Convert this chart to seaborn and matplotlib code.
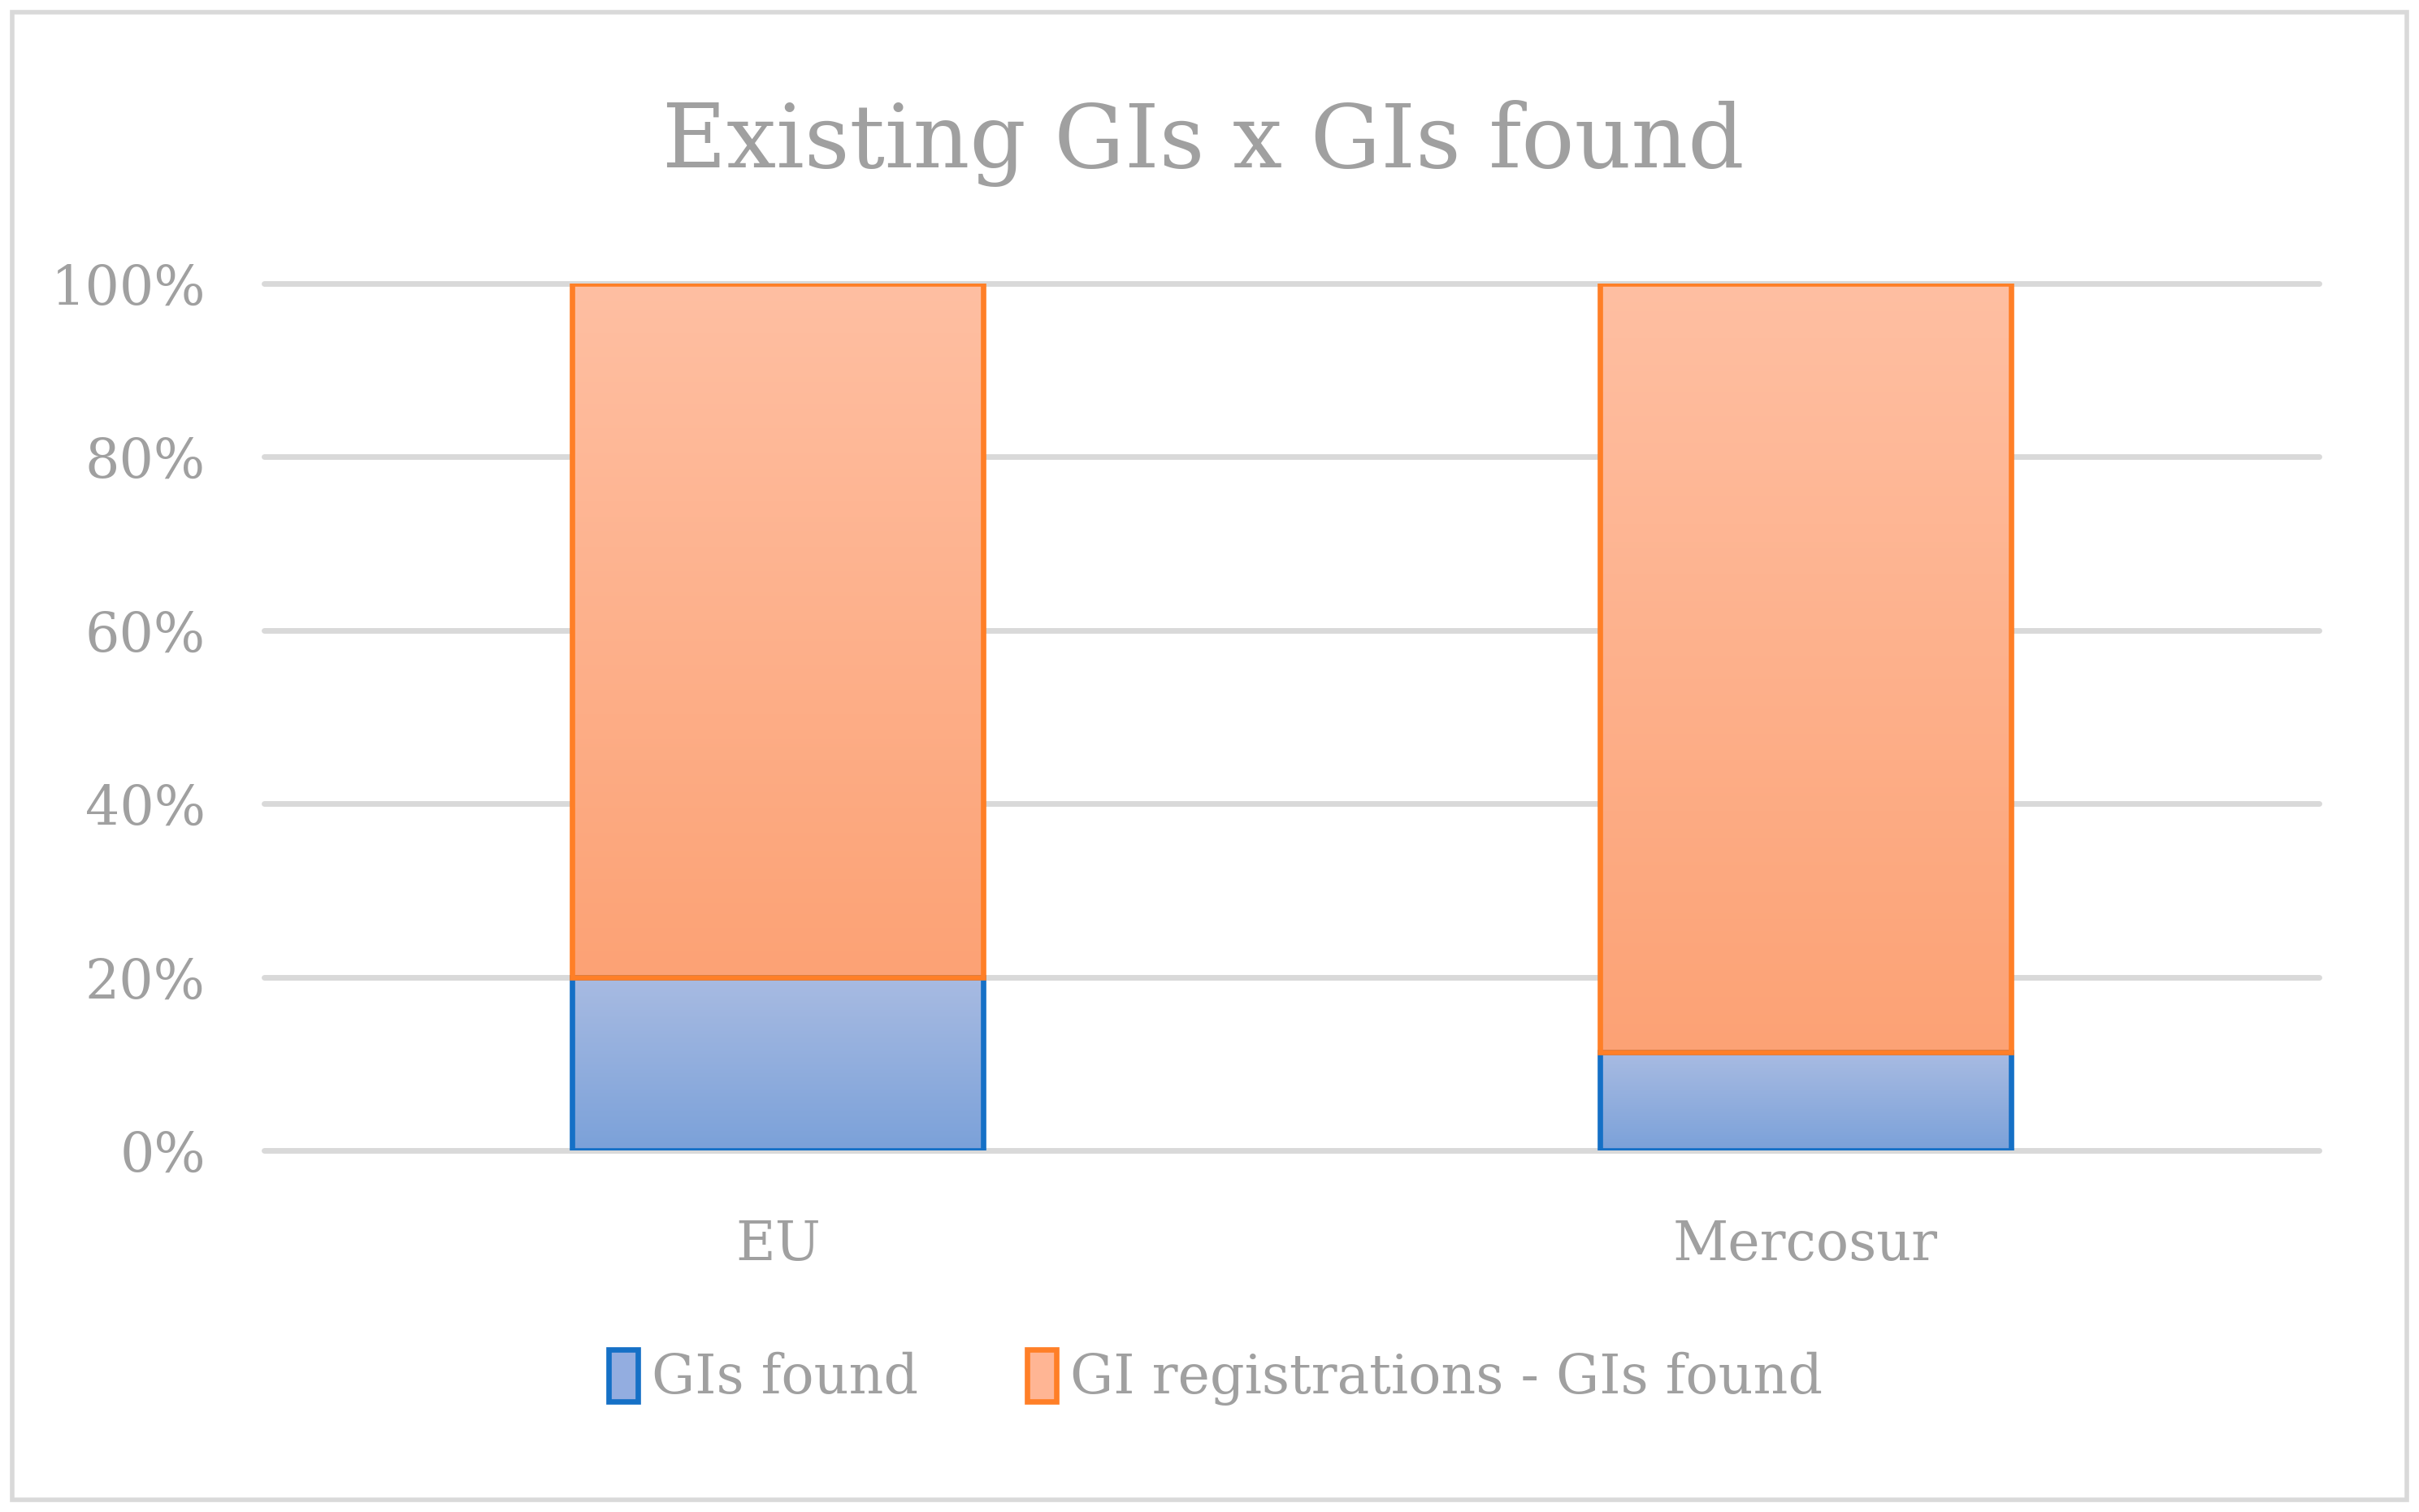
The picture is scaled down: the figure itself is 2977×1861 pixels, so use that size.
import numpy as np
import pandas as pd
import matplotlib
matplotlib.use("Agg")
import matplotlib.pyplot as plt
from matplotlib.patches import Rectangle, Patch
from matplotlib.colors import LinearSegmentedColormap
from matplotlib.ticker import FuncFormatter
import seaborn as sns

# data (share of GI registrations, in %)
regions = ["EU", "Mercosur"]
gis_found = [20.0, 11.3]
gis_rest = [80.0, 88.7]
series = ["GIs found", "GI registrations - GIs found"]

df = pd.DataFrame({
    "region": regions * 2,
    "series": [series[0]] * 2 + [series[1]] * 2,
    "share": gis_found + gis_rest,
})

txt = "#a0a0a0"
grid = "#d9d9d9"
edge = {series[0]: "#1570c6", series[1]: "#ff7f27"}
grad = {series[0]: ("#7ba1d9", "#a8bbe2"),   # bottom, top
        series[1]: ("#fca275", "#ffbfa2")}

sns.set_theme(style="white")
plt.rcParams["font.family"] = ["DejaVu Serif"]

fig = plt.figure(figsize=(29.77 / 2, 18.61 / 2), dpi=200)
ax = fig.add_axes([0.1092, 0.2391, 0.8495, 0.5734])

# seaborn stacks the first hue level on top
sns.histplot(data=df, x="region", hue="series", weights="share",
             hue_order=[series[1], series[0]], multiple="stack",
             shrink=0.4, discrete=True, ax=ax, legend=False,
             palette=[grad[series[1]][0], grad[series[0]][0]],
             edgecolor="none", alpha=1)

# gradient fills clipped to each bar
for p in list(ax.patches):
    x0, y0 = p.get_x(), p.get_y()
    w, h = p.get_width(), p.get_height()
    name = series[0] if y0 < 1e-6 else series[1]
    cmap = LinearSegmentedColormap.from_list("g", list(grad[name]))
    img = np.linspace(0, 1, 256).reshape(-1, 1)
    im = ax.imshow(img, cmap=cmap, origin="lower", aspect="auto",
                   extent=[x0, x0 + w, y0, y0 + h], zorder=2,
                   interpolation="bilinear")
    im.set_clip_path(p)
    p.set_facecolor("none")
    p.set_edgecolor(edge[name])
    p.set_linewidth(2.4)
    p.set_zorder(4 if name == series[1] else 3)

ax.set_xlim(-0.5, 1.5)
ax.set_ylim(0, 100)
ax.set_yticks(np.arange(0, 101, 20))
ax.yaxis.set_major_formatter(FuncFormatter(lambda v, _: f"{v:.0f}%"))
ax.grid(axis="y", color=grid, linewidth=2.5, zorder=0)
for gl in ax.yaxis.get_gridlines():
    gl.set_clip_on(False)
ax.set_axisbelow(True)
for s in ax.spines.values():
    s.set_visible(False)
ax.set_xlabel("")
ax.set_ylabel("")
ax.tick_params(axis="y", colors=txt, labelsize=24, length=0, pad=26)
ax.tick_params(axis="x", colors=txt, labelsize=24, length=0, pad=30)
ax.set_xticks([0, 1])
ax.set_xticklabels(regions)

fig.text(0.4975, 0.905, "Existing GIs x GIs found", ha="center", va="center",
         fontsize=39, color=txt)

handles = [Patch(facecolor=c, edgecolor=edge[s], linewidth=2.4)
           for s, c in zip(series, ["#93ade0", "#ffb594"])]
fig.legend(handles, series, loc="center", bbox_to_anchor=(0.5025, 0.089),
           ncol=2, frameon=False, fontsize=24, labelcolor=txt,
           handlelength=0.55, handleheight=1.1, handletextpad=0.25,
           columnspacing=2.0)

fig.patches.append(Rectangle((0.005, 0.008), 0.99, 0.984,
                             transform=fig.transFigure, fill=False,
                             edgecolor=grid, linewidth=2.0))

fig.savefig("out.png", dpi=200)
